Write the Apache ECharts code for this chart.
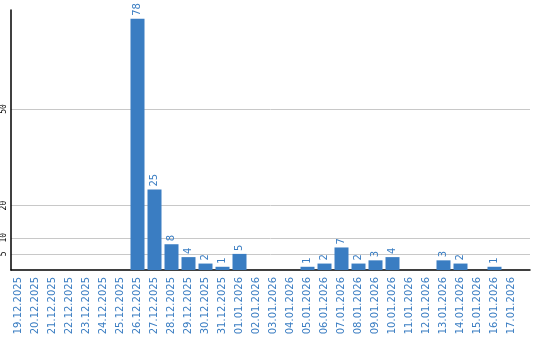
<!DOCTYPE html>
<html><head><meta charset="utf-8">
<script src="https://cdn.jsdelivr.net/npm/echarts@6/dist/echarts.min.js"></script>
<style>html,body{margin:0;padding:0;background:#fff}#c{width:540px;height:340px}</style>
</head><body><div id="c"></div>
<script>
var categories = ['19.12.2025','20.12.2025','21.12.2025','22.12.2025','23.12.2025','24.12.2025','25.12.2025','26.12.2025','27.12.2025','28.12.2025','29.12.2025','30.12.2025','31.12.2025','01.01.2026','02.01.2026','03.01.2026','04.01.2026','05.01.2026','06.01.2026','07.01.2026','08.01.2026','09.01.2026','10.01.2026','11.01.2026','12.01.2026','13.01.2026','14.01.2026','15.01.2026','16.01.2026','17.01.2026'];
var values = [0,0,0,0,0,0,0,78,25,8,4,2,1,5,0,0,0,1,2,7,2,3,4,0,0,3,2,0,1,0];
var yTicks = [5,10,20,50];
var yMax = 80.75;

var blue = '#3a7dc2';
var chart = echarts.init(document.getElementById('c'), null, {renderer:'canvas'});
chart.setOption({
  animation: false,
  grid: [
    {left:10, right:10, top:10, bottom:70},
    {left:10, right:20, top:10, bottom:70}
  ],
  xAxis: [
    {gridIndex:0, type:'value', min:0, max:1,
     axisLine:{show:true, onZero:false, lineStyle:{color:'#000', width:1.5}},
     axisTick:{show:false}, axisLabel:{show:false}, splitLine:{show:false}},
    {gridIndex:1, type:'category', data:categories, boundaryGap:true,
     axisLine:{show:false}, axisTick:{show:false},
     axisLabel:{interval:0, rotate:90, margin:7, color:blue, fontFamily:'DejaVu Sans', fontSize:10}}
  ],
  yAxis: [
    {gridIndex:0, type:'value', min:0, max:yMax,
     axisLine:{show:true, lineStyle:{color:'#000', width:1.5}},
     axisTick:{show:false, customValues:yTicks},
     axisLabel:{customValues:yTicks, rotate:90, margin:3, color:'#000', fontFamily:'DejaVu Sans Mono', fontSize:8},
     splitLine:{show:true, lineStyle:{color:'#c8c8c8', width:1}}},
    {gridIndex:1, type:'value', min:0, max:yMax, show:false}
  ],
  series: [{
    type:'bar', xAxisIndex:1, yAxisIndex:1, data:values, barWidth:14,
    itemStyle:{color:blue},
    label:{show:true, position:'top', rotate:90, align:'left', verticalAlign:'middle', distance:3,
      color:blue, fontFamily:'DejaVu Sans', fontSize:10,
      formatter:function(p){return p.value ? String(p.value) : '';}}
  }]
});
</script></body></html>
